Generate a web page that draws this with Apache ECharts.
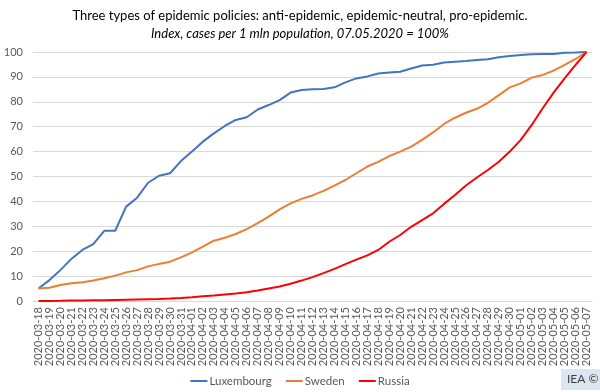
<!DOCTYPE html>
<html>
<head>
<meta charset="utf-8">
<script src="https://cdn.jsdelivr.net/npm/echarts@6/dist/echarts.min.js"></script>
<style>
html,body{margin:0;padding:0;background:#fff;}
#main{width:600px;height:392px;}
</style>
</head>
<body>
<div id="main"></div>
<script>
const dates = [
 '2020-03-18','2020-03-19','2020-03-20','2020-03-21','2020-03-22','2020-03-23','2020-03-24','2020-03-25','2020-03-26','2020-03-27',
 '2020-03-28','2020-03-29','2020-03-30','2020-03-31','2020-04-01','2020-04-02','2020-04-03','2020-04-04','2020-04-05','2020-04-06',
 '2020-04-07','2020-04-08','2020-04-09','2020-04-10','2020-04-11','2020-04-12','2020-04-13','2020-04-14','2020-04-15','2020-04-16',
 '2020-04-17','2020-04-18','2020-04-19','2020-04-20','2020-04-21','2020-04-22','2020-04-23','2020-04-24','2020-04-25','2020-04-26',
 '2020-04-27','2020-04-28','2020-04-29','2020-04-30','2020-05-01','2020-05-02','2020-05-03','2020-05-04','2020-05-05','2020-05-06',
 '2020-05-07'
];
const luxembourg = [
 5, 8.4, 12.4, 16.9, 20.5, 22.8, 28.2, 28.2, 37.9, 41.5,
 47.5, 50.3, 51.3, 56.2, 60, 64, 67.3, 70.3, 72.7, 73.8,
 76.9, 78.7, 80.7, 83.7, 84.7, 85, 85.1, 85.8, 87.8, 89.4,
 90.2, 91.4, 91.8, 92.1, 93.4, 94.6, 94.9, 95.8, 96.1, 96.4,
 96.8, 97.1, 97.9, 98.4, 98.8, 99.1, 99.2, 99.2, 99.7, 99.8,
 100
];
const sweden = [
 5, 5.3, 6.4, 7.1, 7.5, 8.2, 9.1, 10.2, 11.5, 12.4,
 13.9, 14.9, 15.8, 17.5, 19.5, 21.8, 24.2, 25.4, 26.9, 28.9,
 31.3, 33.9, 36.8, 39.2, 41, 42.4, 44.2, 46.3, 48.6, 51.3,
 54, 55.9, 58.2, 60, 62, 64.7, 67.7, 71.1, 73.6, 75.6,
 77.2, 79.6, 82.7, 85.8, 87.4, 89.7, 90.8, 92.5, 94.8, 97.2,
 100
];
const russia = [
 0, 0.05, 0.1, 0.2, 0.25, 0.3, 0.35, 0.45, 0.55, 0.65,
 0.75, 0.85, 1.0, 1.2, 1.5, 1.9, 2.2, 2.6, 3.0, 3.5,
 4.2, 5.0, 5.8, 6.9, 8.2, 9.6, 11.2, 12.9, 14.8, 16.6,
 18.3, 20.5, 23.8, 26.5, 29.8, 32.5, 35.2, 39, 42.6, 46.4,
 49.6, 52.6, 55.9, 60, 64.7, 70.7, 77.4, 83.7, 89.4, 94.8,
 100
];
const seriesNames = ['Luxembourg','Sweden','Russia'];
const titleText = 'Three types of epidemic policies: anti-epidemic, epidemic-neutral, pro-epidemic.';
const subtitleText = 'Index, cases per 1 mln population, 07.05.2020 = 100%';

const FONT = 'Lato, "Open Sans", sans-serif';
const chart = echarts.init(document.getElementById('main'), null, {renderer:'canvas'});
function mk(name, data, color){
  return {name, type:'line', data, symbol:'none', smooth:false,
    lineStyle:{color, width:2}, itemStyle:{color}, animation:false};
}
chart.setOption({
  animation:false,
  backgroundColor:'#fff',
  textStyle:{fontFamily:FONT},
  title:{
    text:titleText, subtext:subtitleText, left:'center', top:4, itemGap:5,
    textStyle:{fontFamily:FONT, fontSize:13, fontWeight:'normal', color:'#000'},
    subtextStyle:{fontFamily:FONT, fontSize:13, fontStyle:'italic', color:'#000'}
  },
  grid:{left:33, right:8, top:52, bottom:91, containLabel:false},
  xAxis:{
    type:'category', data:dates, boundaryGap:true,
    axisLine:{lineStyle:{color:'#d9d9d9', width:1}},
    axisTick:{show:false},
    axisLabel:{rotate:90, interval:0, fontSize:11, color:'#595959', fontFamily:FONT, margin:6}
  },
  yAxis:{
    type:'value', min:0, max:100, interval:10,
    axisLine:{show:false}, axisTick:{show:false},
    splitLine:{lineStyle:{color:'#d9d9d9', width:1}},
    axisLabel:{fontSize:11, color:'#595959', fontFamily:FONT, margin:10}
  },
  legend:{
    data:seriesNames, left:'center', top:370, icon:'rect', itemWidth:17, itemHeight:2, itemGap:14,
    textStyle:{fontSize:11.5, color:'#595959', fontFamily:FONT, padding:[0,0,0,-3]}
  },
  graphic:[{
    type:'group', right:0, bottom:2,
    children:[
      {type:'rect', shape:{x:0,y:0,width:39,height:21}, style:{fill:'#dce6f2'}},
      {type:'text', left:6, top:4, style:{text:'IEA ©', fontSize:12, fill:'#404040', fontFamily:FONT}}
    ]
  }],
  series:[
    mk(seriesNames[0], luxembourg, '#4472c4'),
    mk(seriesNames[1], sweden, '#ed7d31'),
    mk(seriesNames[2], russia, '#ff0000')
  ]
});
</script>
</body>
</html>
